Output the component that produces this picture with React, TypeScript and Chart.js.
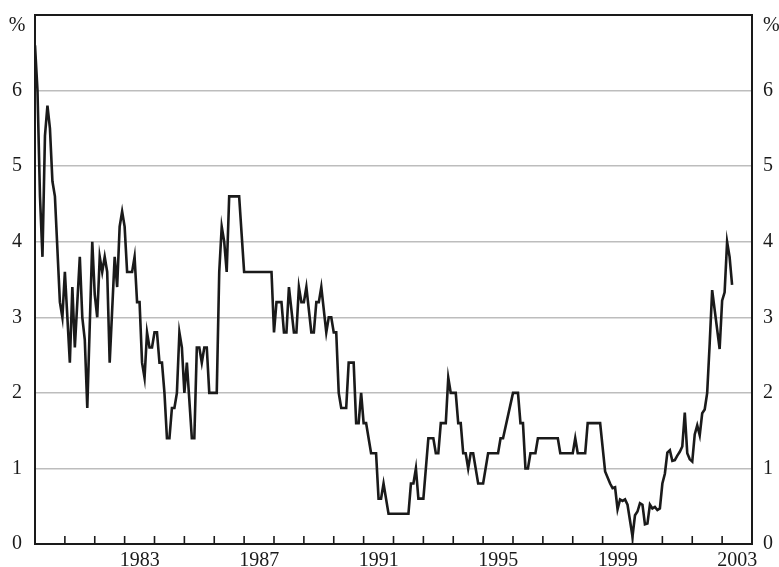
import React, { useEffect, useRef } from "react";
import { Chart, registerables } from "chart.js";

Chart.register(...registerables);

const months: string[] = [
  "1980-01", "1980-02", "1980-03", "1980-04", "1980-05", "1980-06", "1980-07", "1980-08", "1980-09", "1980-11", "1980-12",
  "1981-01", "1981-03", "1981-04", "1981-05", "1981-07", "1981-08", "1981-09", "1981-10", "1981-12",
  "1982-01", "1982-02", "1982-03", "1982-04", "1982-05", "1982-06", "1982-07", "1982-09", "1982-10", "1982-11", "1982-12",
  "1983-01", "1983-02", "1983-04", "1983-05", "1983-06", "1983-07", "1983-08", "1983-09", "1983-10", "1983-11", "1983-12",
  "1984-01", "1984-02", "1984-03", "1984-04", "1984-05", "1984-06", "1984-07", "1984-08", "1984-09", "1984-10", "1984-11", "1984-12",
  "1985-01", "1985-02", "1985-04", "1985-05", "1985-06", "1985-07", "1985-08", "1985-09", "1985-10", "1985-11",
  "1986-02", "1986-03", "1986-04", "1986-05", "1986-06", "1986-07", "1986-11", "1986-12",
  "1987-01", "1987-12",
  "1988-01", "1988-02", "1988-04", "1988-05", "1988-06", "1988-07", "1988-09", "1988-10", "1988-11", "1988-12",
  "1989-01", "1989-02", "1989-04", "1989-05", "1989-06", "1989-07", "1989-08", "1989-10", "1989-11", "1989-12",
  "1990-01", "1990-02", "1990-03", "1990-04", "1990-06", "1990-07", "1990-09", "1990-10", "1990-11", "1990-12",
  "1991-01", "1991-02", "1991-03", "1991-04", "1991-06", "1991-07", "1991-08", "1991-09", "1991-11",
  "1992-07", "1992-08", "1992-09", "1992-10", "1992-11",
  "1993-01", "1993-03", "1993-05", "1993-06", "1993-07", "1993-08", "1993-10", "1993-11", "1993-12",
  "1994-02", "1994-03", "1994-04", "1994-05", "1994-06", "1994-07", "1994-08", "1994-09", "1994-11",
  "1995-01", "1995-03", "1995-07", "1995-08", "1995-09",
  "1996-01", "1996-03", "1996-04", "1996-05", "1996-06", "1996-07", "1996-08", "1996-10", "1996-11",
  "1997-07", "1997-08",
  "1998-01", "1998-02", "1998-03", "1998-06", "1998-07", "1998-12",
  "1999-02", "1999-04", "1999-05", "1999-06", "1999-07", "1999-08", "1999-09", "1999-10", "1999-11",
  "2000-01", "2000-02", "2000-03", "2000-04", "2000-05", "2000-06", "2000-07", "2000-08", "2000-09", "2000-10", "2000-11", "2000-12",
  "2001-01", "2001-02", "2001-03", "2001-04", "2001-05", "2001-06", "2001-07", "2001-08", "2001-09", "2001-10", "2001-11", "2001-12",
  "2002-01", "2002-02", "2002-03", "2002-04", "2002-05", "2002-06", "2002-07", "2002-08", "2002-09", "2002-12",
  "2003-01", "2003-02", "2003-03", "2003-04", "2003-05",
];

const values: number[] = [
  6.6, 6.0, 4.6, 3.8, 5.4, 5.8, 5.5, 4.8, 4.6, 3.2, 3.0,
  3.6, 2.4, 3.4, 2.6, 3.8, 3.0, 2.7, 1.8, 4.0,
  3.3, 3.0, 3.8, 3.6, 3.8, 3.6, 2.4, 3.8, 3.4, 4.2, 4.4,
  4.2, 3.6, 3.6, 3.8, 3.2, 3.2, 2.4, 2.2, 2.8, 2.6, 2.6,
  2.8, 2.8, 2.4, 2.4, 2.0, 1.4, 1.4, 1.8, 1.8, 2.0, 2.8, 2.6,
  2.0, 2.4, 1.4, 1.4, 2.6, 2.6, 2.4, 2.6, 2.6, 2.0,
  2.0, 3.6, 4.2, 4.0, 3.6, 4.6, 4.6, 4.1,
  3.6, 3.6,
  2.8, 3.2, 3.2, 2.8, 2.8, 3.4, 2.8, 2.8, 3.4, 3.2,
  3.2, 3.4, 2.8, 2.8, 3.2, 3.2, 3.4, 2.8, 3.0, 3.0,
  2.8, 2.8, 2.0, 1.8, 1.8, 2.4, 2.4, 1.6, 1.6, 2.0,
  1.6, 1.6, 1.4, 1.2, 1.2, 0.6, 0.6, 0.8, 0.4,
  0.4, 0.8, 0.8, 1.0, 0.6,
  0.6, 1.4, 1.4, 1.2, 1.2, 1.6, 1.6, 2.2, 2.0,
  2.0, 1.6, 1.6, 1.2, 1.2, 1.0, 1.2, 1.2, 0.8,
  0.8, 1.2, 1.2, 1.4, 1.4,
  2.0, 2.0, 1.6, 1.6, 1.0, 1.0, 1.2, 1.2, 1.4,
  1.4, 1.2,
  1.2, 1.4, 1.2, 1.2, 1.6, 1.6,
  0.96, 0.8, 0.74, 0.75, 0.46, 0.59, 0.57, 0.59, 0.52,
  0.1, 0.38, 0.43, 0.54, 0.52, 0.26, 0.27, 0.52, 0.47, 0.49, 0.45, 0.47,
  0.8, 0.93, 1.21, 1.24, 1.1, 1.11, 1.17, 1.22, 1.29, 1.74, 1.2, 1.12,
  1.09, 1.45, 1.57, 1.44, 1.73, 1.78, 2.0, 2.65, 3.36, 2.58,
  3.22, 3.33, 4.0, 3.8, 3.43,
];

// Year boundaries carrying tick marks, and the years that are labelled
const yearTicks: number[] = [
  1981, 1982, 1983, 1984, 1985, 1986, 1987, 1988, 1989, 1990, 1991, 1992,
  1993, 1994, 1995, 1996, 1997, 1998, 1999, 2000, 2001, 2002, 2003,
];
const labelledYears: number[] = [1983, 1987, 1991, 1995, 1999, 2003];
const yMin = 0;
const yMax = 7;
const unitLabel = "%";

const FONT = "'Liberation Serif', 'DejaVu Serif', serif";

function toYear(s: string): number {
  const [y, m] = s.split("-").map(Number);
  return y + (m - 1) / 12;
}

const framePlugin = {
  id: "frameAndTicks",
  afterDatasetsDraw(chart: any) {
    const { ctx, chartArea } = chart;
    const xs = chart.scales.x;
    ctx.save();
    // inward tick marks on the bottom axis
    ctx.strokeStyle = "#1a1a1a";
    ctx.lineWidth = 1.6;
    xs.ticks.forEach((t: any) => {
      const px = xs.getPixelForValue(t.value);
      ctx.beginPath();
      ctx.moveTo(px, chartArea.bottom);
      ctx.lineTo(px, chartArea.bottom - 8);
      ctx.stroke();
    });
    // frame
    ctx.lineWidth = 2;
    ctx.strokeRect(chartArea.left, chartArea.top, chartArea.right - chartArea.left, chartArea.bottom - chartArea.top);
    // unit labels
    ctx.fillStyle = "#1a1a1a";
    ctx.font = "20px " + FONT;
    ctx.textBaseline = "middle";
    ctx.textAlign = "center";
    ctx.fillText(unitLabel, chartArea.left - 18, chartArea.top + 11);
    ctx.textAlign = "left";
    ctx.fillText(unitLabel, chartArea.right + 11, chartArea.top + 11);
    ctx.restore();
  },
};

function zeroPad(scale: any) {
  scale.paddingTop = 0;
  scale.paddingBottom = 0;
  scale.paddingLeft = 0;
  scale.paddingRight = 0;
}

export default function App() {
  const ref = useRef<HTMLCanvasElement | null>(null);

  useEffect(() => {
    document.body.style.margin = "0";
    if (!ref.current) return;
    const points = months.map((m, i) => ({ x: toYear(m), y: values[i] }));
    const yTickOpts = {
      stepSize: 1,
      color: "#1a1a1a",
      font: { family: FONT, size: 20 },
      callback: (v: any) => (v === yMax ? "" : String(v)),
    };
    const chart = new Chart(ref.current, {
      type: "line",
      data: {
        datasets: [
          {
            data: points,
            borderColor: "#1a1a1a",
            borderWidth: 2.6,
            pointRadius: 0,
            tension: 0,
            fill: false,
          },
        ],
      },
      options: {
        animation: false,
        responsive: false,
        parsing: false as any,
        layout: { padding: { top: 15, left: 0, right: 0, bottom: 0 } },
        plugins: { legend: { display: false }, tooltip: { enabled: false } },
        scales: {
          x: {
            type: "linear",
            min: 1980,
            max: 2004,
            afterBuildTicks: (scale: any) => {
              scale.ticks = yearTicks.map((v) => ({ value: v }));
            },
            afterFit: (scale: any) => {
              scale.height = 23;
              zeroPad(scale);
            },
            grid: { display: false, drawTicks: false },
            border: { display: false },
            ticks: {
              autoSkip: false,
              maxRotation: 0,
              padding: 5,
              labelOffset: 15,
              color: "#1a1a1a",
              font: { family: FONT, size: 20 },
              callback: (v: any) => (labelledYears.includes(v) ? String(v) : ""),
            },
          },
          y: {
            position: "left",
            min: yMin,
            max: yMax,
            afterFit: (scale: any) => {
              scale.width = 35;
              zeroPad(scale);
            },
            grid: {
              drawTicks: false,
              lineWidth: 1.5,
              color: (c: any) => (c.tick && (c.tick.value === yMin || c.tick.value === yMax) ? "rgba(0,0,0,0)" : "#bdbdbd"),
            },
            border: { display: false },
            ticks: { ...yTickOpts, padding: 13 },
          },
          y2: {
            position: "right",
            min: yMin,
            max: yMax,
            afterFit: (scale: any) => {
              scale.width = 27;
              zeroPad(scale);
            },
            grid: { display: false, drawTicks: false },
            border: { display: false },
            ticks: { ...yTickOpts, padding: 11 },
          },
        },
      },
      plugins: [framePlugin],
    });
    return () => chart.destroy();
  }, []);

  return (
    <div style={{ width: 779, height: 567, background: "#fff" }}>
      <canvas ref={ref} width={779} height={567} style={{ display: "block" }} />
    </div>
  );
}
